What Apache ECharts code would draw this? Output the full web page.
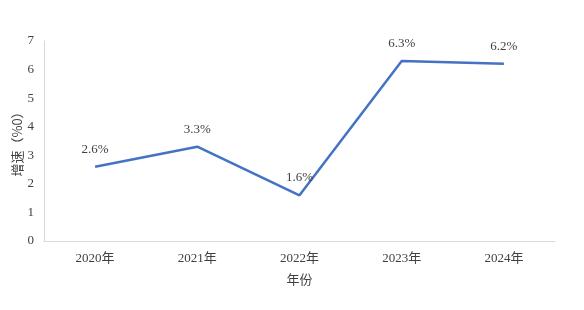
<!DOCTYPE html>
<html><head><meta charset="utf-8">
<script src="https://cdn.jsdelivr.net/npm/echarts@6/dist/echarts.min.js"></script>
<style>html,body{margin:0;padding:0;background:#fff}#c{width:584px;height:310px}</style>
</head><body><div id="c"></div>
<script>
const categories = ['2020年','2021年','2022年','2023年','2024年'];
const growth = [2.6, 3.3, 1.6, 6.3, 6.2];
const yTicks = [0,1,2,3,4,5,6,7];
const FONT = '"Liberation Serif", "Noto Sans CJK SC", serif';
const chart = echarts.init(document.getElementById('c'), null, {renderer:'canvas'});
chart.setOption({
  animation:false,
  grid:{left:44,right:29,top:41,bottom:69,containLabel:false},
  xAxis:{type:'category',data:categories,boundaryGap:true,
    name:'年份',nameLocation:'middle',nameGap:32,nameMoveOverlap:false,
    nameTextStyle:{fontFamily:'"Noto Sans CJK SC", sans-serif',fontSize:13,color:'#404040'},
    axisLine:{lineStyle:{color:'#d9d9d9'}},axisTick:{show:false},
    axisLabel:{fontFamily:FONT,fontSize:13,color:'#404040',margin:11}},
  yAxis:{type:'value',min:yTicks[0],max:yTicks[yTicks.length-1],interval:1,
    name:'增速（%0）',nameLocation:'middle',nameGap:20,nameRotate:90,nameMoveOverlap:false,
    nameTextStyle:{fontFamily:'"Noto Sans CJK SC", sans-serif',fontSize:13,color:'#404040'},
    axisLine:{show:true,lineStyle:{color:'#d9d9d9'}},axisTick:{show:false},splitLine:{show:false},
    axisLabel:{fontFamily:FONT,fontSize:13,color:'#404040',margin:10}},
  series:[{type:'line',data:growth,showSymbol:true,symbol:'circle',symbolSize:0,
    itemStyle:{color:'#4472C4'},
    lineStyle:{color:'#4472C4',width:2.5},
    label:{show:true,position:'top',distance:11,formatter:p=>p.value.toFixed(1)+'%',
      fontFamily:FONT,fontSize:13,color:'#404040'}}]
});
</script></body></html>
